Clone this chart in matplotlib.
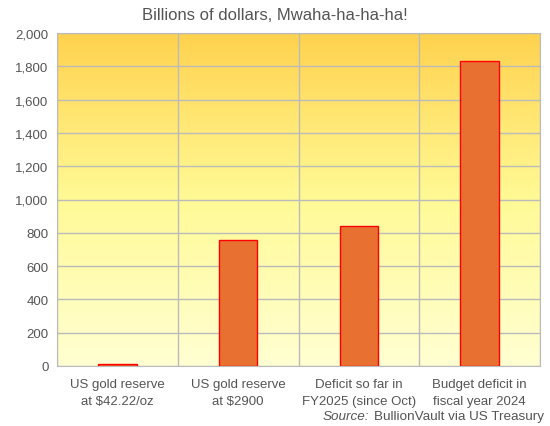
import numpy as np
import matplotlib.pyplot as plt
from matplotlib.colors import LinearSegmentedColormap

categories = ["US gold reserve\nat $42.22/oz", "US gold reserve\nat $2900",
              "Deficit so far in\nFY2025 (since Oct)", "Budget deficit in\nfiscal year 2024"]
values = [11, 758, 841, 1833]
yticks = [0, 200, 400, 600, 800, 1000, 1200, 1400, 1600, 1800, 2000]

plt.rcParams['font.family'] = ['Liberation Sans', 'DejaVu Sans']
txt = '#555555'

fig = plt.figure(figsize=(5.5, 4.27), dpi=100)
ax = fig.add_axes([57/550, 1-367/427, 483/550, 333/427])

# gradient background
cmap = LinearSegmentedColormap.from_list('bg', ['#ffffd2', '#fffa96', '#ffd24e'])
grad = np.linspace(0, 1, 256).reshape(-1, 1)
ax.imshow(grad, aspect='auto', cmap=cmap, origin='lower',
          extent=[-0.5, len(categories) - 0.5, 0, 2000], zorder=0)

x = np.arange(len(categories))
ax.bar(x, values, width=0.32, color='#e87131', edgecolor='#ff0000', linewidth=1, zorder=3)

ax.set_xlim(-0.5, len(categories) - 0.5)
ax.set_ylim(0, 2000)
ax.set_yticks(yticks)
ax.set_yticklabels([f"{v:,}" for v in yticks], color=txt, fontsize=9.5)
ax.set_xticks(x)
ax.set_xticklabels(categories, color=txt, fontsize=9.5, linespacing=1.45)
ax.set_xticks(np.arange(len(categories) + 1) - 0.5, minor=True)
ax.tick_params(axis='x', which='both', length=0, pad=9)
ax.tick_params(axis='y', length=0, pad=6)
ax.grid(axis='y', color='#bbbbbb', linewidth=1, zorder=1)
ax.grid(axis='x', which='minor', color='#bbbbbb', linewidth=1, zorder=1)
ax.grid(axis='x', which='major', visible=False)
for s in ax.spines.values():
    s.set_color('#bbbbbb')

fig.text(0.5, 1 - 16/427, "Billions of dollars, Mwaha-ha-ha-ha!", ha='center', va='center',
         color=txt, fontsize=12)
src = fig.text(544/550, 1 - 417/427, "BullionVault via US Treasury", ha='right', va='center',
               color=txt, fontsize=9.7)
fig.canvas.draw()
bb = src.get_window_extent()
fig.text((bb.x0 - 5) / 550, 1 - 417/427, "Source:", ha='right', va='center', color=txt,
         fontsize=9.7, style='italic')

fig.savefig('out.png', dpi=100)
